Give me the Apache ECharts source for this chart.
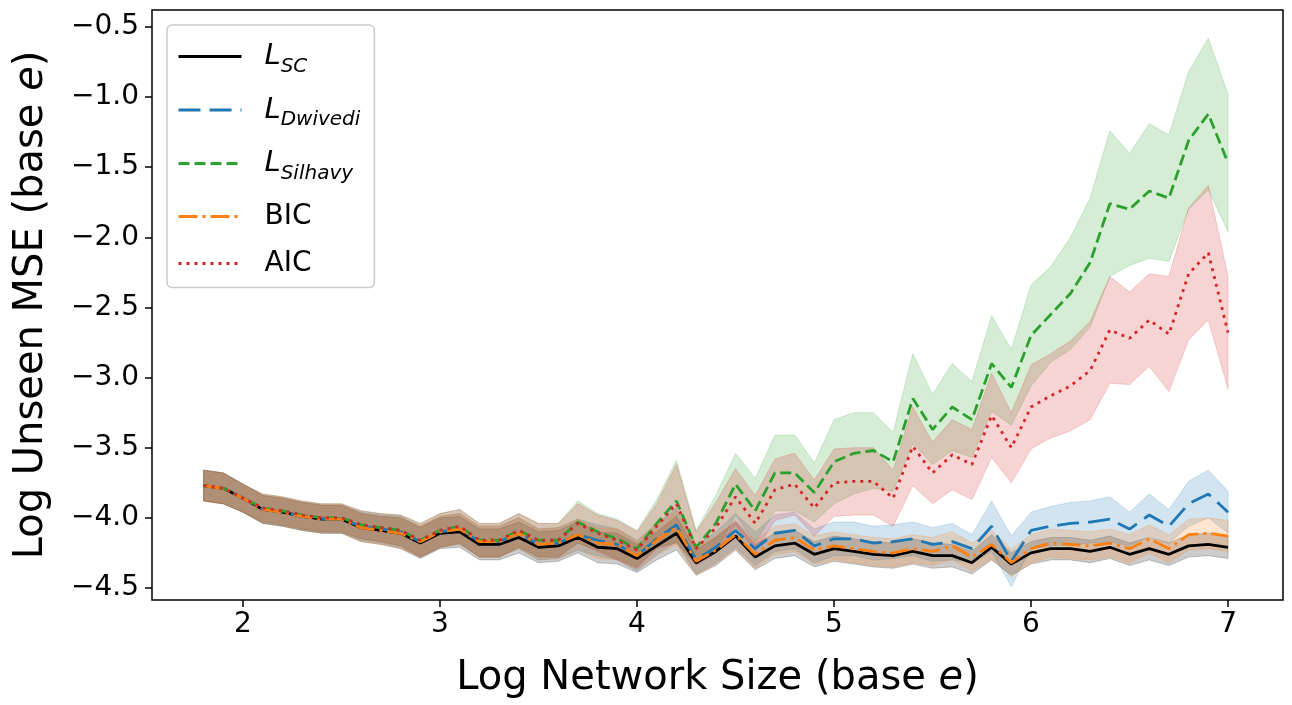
<!DOCTYPE html>
<html>
<head>
<meta charset="utf-8">
<script src="https://cdn.jsdelivr.net/npm/echarts@6/dist/echarts.min.js"></script>
<style>
  html, body { margin: 0; padding: 0; background: #fff; }
  #chart { width: 1292px; height: 705px; }
</style>
</head>
<body>
<div id="chart"></div>
<script>
// x: log network size (base e)
var logSize = [1.8,1.9,2.0,2.1,2.2,2.3,2.4,2.5,2.6,2.7,
               2.8,2.9,3.0,3.1,3.2,3.3,3.4,3.5,3.6,3.7,
               3.8,3.9,4.0,4.1,4.2,4.3,4.4,4.5,4.6,4.7,
               4.8,4.9,5.0,5.1,5.2,5.3,5.4,5.5,5.6,5.7,
               5.8,5.9,6.0,6.1,6.2,6.3,6.4,6.5,6.6,6.7,
               6.8,6.9,7.0];

// mean log unseen MSE per method
var scMean = [-3.77,-3.79,-3.86,-3.94,-3.96,-3.99,-4.01,-4.01,-4.07,-4.09,
              -4.11,-4.18,-4.11,-4.10,-4.19,-4.19,-4.14,-4.21,-4.20,-4.14,
              -4.21,-4.22,-4.29,-4.20,-4.11,-4.32,-4.24,-4.13,-4.28,-4.20,
              -4.18,-4.26,-4.22,-4.24,-4.26,-4.27,-4.24,-4.27,-4.27,-4.32,
              -4.21,-4.33,-4.25,-4.22,-4.22,-4.24,-4.21,-4.26,-4.22,-4.26,
              -4.20,-4.19,-4.21];
var dwMean = [-3.77,-3.79,-3.86,-3.94,-3.96,-3.99,-4.01,-4.01,-4.06,-4.08,
              -4.10,-4.17,-4.10,-4.08,-4.17,-4.17,-4.11,-4.19,-4.18,-4.12,
              -4.16,-4.19,-4.27,-4.15,-4.05,-4.30,-4.21,-4.09,-4.22,-4.11,
              -4.09,-4.20,-4.15,-4.15,-4.18,-4.17,-4.15,-4.19,-4.17,-4.22,
              -4.06,-4.31,-4.09,-4.06,-4.04,-4.03,-4.01,-4.08,-3.98,-4.06,
              -3.90,-3.83,-3.96];
var siMean = [-3.77,-3.79,-3.86,-3.93,-3.95,-3.98,-4.00,-4.00,-4.05,-4.07,
              -4.09,-4.16,-4.09,-4.06,-4.16,-4.16,-4.09,-4.16,-4.16,-4.03,
              -4.10,-4.15,-4.22,-4.04,-3.88,-4.21,-4.04,-3.76,-3.95,-3.68,
              -3.68,-3.82,-3.60,-3.54,-3.52,-3.60,-3.15,-3.37,-3.21,-3.30,
              -2.90,-3.07,-2.70,-2.55,-2.40,-2.18,-1.76,-1.80,-1.67,-1.72,
              -1.31,-1.12,-1.47];
var bicMean = [-3.77,-3.79,-3.86,-3.94,-3.96,-3.99,-4.01,-4.01,-4.07,-4.09,
               -4.11,-4.17,-4.10,-4.08,-4.17,-4.17,-4.11,-4.19,-4.18,-4.12,
               -4.18,-4.19,-4.27,-4.16,-4.07,-4.31,-4.23,-4.12,-4.26,-4.16,
               -4.14,-4.23,-4.20,-4.22,-4.24,-4.25,-4.22,-4.24,-4.20,-4.28,
               -4.19,-4.32,-4.22,-4.18,-4.19,-4.20,-4.18,-4.22,-4.15,-4.22,
               -4.12,-4.11,-4.13];
var aicMean = [-3.77,-3.79,-3.86,-3.93,-3.95,-3.98,-4.00,-4.00,-4.05,-4.07,
               -4.09,-4.16,-4.09,-4.06,-4.16,-4.16,-4.09,-4.16,-4.16,-4.04,
               -4.11,-4.16,-4.23,-4.06,-3.90,-4.22,-4.07,-3.85,-4.04,-3.80,
               -3.76,-3.93,-3.75,-3.74,-3.74,-3.86,-3.49,-3.68,-3.55,-3.62,
               -3.27,-3.50,-3.21,-3.13,-3.06,-2.95,-2.66,-2.72,-2.59,-2.69,
               -2.26,-2.11,-2.68];

// spread (half width of shaded band)
var scSd = [0.11,0.11,0.10,0.10,0.10,0.10,0.10,0.10,0.10,0.10,
            0.11,0.11,0.11,0.11,0.11,0.11,0.11,0.11,0.11,0.11,
            0.11,0.11,0.10,0.10,0.12,0.09,0.10,0.10,0.09,0.09,
            0.09,0.09,0.09,0.09,0.09,0.09,0.09,0.09,0.08,0.08,
            0.09,0.08,0.08,0.08,0.08,0.08,0.08,0.08,0.08,0.08,
            0.08,0.08,0.08];
var dwSd = [0.11,0.11,0.10,0.10,0.10,0.10,0.10,0.10,0.10,0.10,
            0.11,0.11,0.11,0.11,0.11,0.11,0.11,0.11,0.11,0.11,
            0.11,0.11,0.11,0.11,0.12,0.10,0.11,0.12,0.12,0.13,
            0.13,0.12,0.12,0.12,0.12,0.12,0.12,0.12,0.13,0.10,
            0.18,0.18,0.13,0.14,0.15,0.15,0.16,0.12,0.15,0.12,
            0.16,0.17,0.15];
var siSd = [0.11,0.11,0.10,0.10,0.10,0.10,0.10,0.10,0.10,0.10,
            0.11,0.12,0.12,0.12,0.12,0.12,0.12,0.12,0.12,0.15,
            0.13,0.14,0.13,0.17,0.29,0.12,0.20,0.22,0.23,0.27,
            0.27,0.21,0.30,0.29,0.27,0.21,0.32,0.25,0.31,0.27,
            0.34,0.27,0.36,0.34,0.40,0.46,0.52,0.40,0.48,0.45,
            0.49,0.54,0.49];
var bicSd = [0.11,0.11,0.10,0.10,0.10,0.10,0.10,0.10,0.10,0.10,
             0.11,0.11,0.11,0.11,0.11,0.11,0.11,0.11,0.11,0.11,
             0.11,0.11,0.10,0.11,0.12,0.10,0.10,0.10,0.10,0.10,
             0.10,0.10,0.10,0.10,0.10,0.10,0.10,0.10,0.10,0.10,
             0.10,0.10,0.10,0.10,0.10,0.10,0.10,0.10,0.10,0.10,
             0.11,0.11,0.11];
var aicSd = [0.11,0.11,0.10,0.10,0.10,0.10,0.10,0.10,0.10,0.10,
             0.11,0.12,0.12,0.12,0.12,0.12,0.12,0.12,0.12,0.14,
             0.13,0.14,0.13,0.16,0.28,0.12,0.18,0.20,0.20,0.22,
             0.22,0.20,0.24,0.24,0.24,0.20,0.28,0.22,0.25,0.25,
             0.30,0.25,0.30,0.30,0.32,0.35,0.38,0.33,0.33,0.41,
             0.47,0.48,0.40];

var xTicks = [2, 3, 4, 5, 6, 7];
var yTicks = [-4.5, -4.0, -3.5, -3.0, -2.5, -2.0, -1.5, -1.0, -0.5];

var FONT = 'DejaVu Sans';

var methods = [
  { name: 'L_SC',      label: '{p|}{L|L}{s|SC}',      mean: scMean,  sd: scSd,  color: '#000000', fill: 'rgba(0,0,0,0.2)',       dash: 'solid' },
  { name: 'L_Dwivedi', label: '{p|}{L|L}{s|Dwivedi}', mean: dwMean,  sd: dwSd,  color: '#1f77b4', fill: 'rgba(31,119,180,0.2)',  dash: [22, 9] },
  { name: 'L_Silhavy', label: '{p|}{L|L}{s|Silhavy}', mean: siMean,  sd: siSd,  color: '#2ca02c', fill: 'rgba(44,160,44,0.2)',   dash: [11, 5] },
  { name: 'BIC',       label: '{p|}{t|BIC}',          mean: bicMean, sd: bicSd, color: '#ff7f0e', fill: 'rgba(255,127,14,0.2)',  dash: [19, 5, 3, 5] },
  { name: 'AIC',       label: '{p|}{t|AIC}',          mean: aicMean, sd: aicSd, color: '#d62728', fill: 'rgba(214,39,40,0.2)',   dash: [3, 5] }
];

function pairs(ys) {
  return logSize.map(function (x, i) { return [x, ys[i]]; });
}

// one polygon per method: mean +/- sd
function bandSeries(m, k) {
  return {
    type: 'custom',
    name: 'band' + k,
    coordinateSystem: 'cartesian2d',
    data: pairs(m.mean),
    encode: { x: 0, y: 1 },
    z: 1,
    silent: true,
    renderItem: function (params, api) {
      if (params.dataIndex !== 0) return null;
      var pts = [];
      for (var i = 0; i < logSize.length; i++) {
        pts.push(api.coord([logSize[i], m.mean[i] + m.sd[i]]));
      }
      for (var j = logSize.length - 1; j >= 0; j--) {
        pts.push(api.coord([logSize[j], m.mean[j] - m.sd[j]]));
      }
      return {
        type: 'polygon',
        shape: { points: pts },
        style: { fill: m.fill, stroke: m.fill, lineWidth: 1 }
      };
    }
  };
}

function lineSeries(m, k) {
  return {
    type: 'line',
    name: m.name,
    data: pairs(m.mean),
    symbol: 'none',
    z: 10 + k,
    lineStyle: { color: m.color, width: 2.8, type: m.dash },
    itemStyle: { color: m.color }
  };
}

var series = [];
methods.forEach(function (m, k) { series.push(bandSeries(m, k)); });
methods.forEach(function (m, k) { series.push(lineSeries(m, k)); });

function fmt(v) {
  return (v < 0 ? '\u2212' : '') + Math.abs(v).toFixed(1);
}

var chart = echarts.init(document.getElementById('chart'), null, { renderer: 'canvas' });

chart.setOption({
  animation: false,
  backgroundColor: '#fff',
  grid: {
    left: 152, right: 9, top: 10, bottom: 105,
    show: true, borderColor: '#000', borderWidth: 1.5, backgroundColor: 'transparent'
  },
  legend: {
    data: methods.map(function (m) { return m.name; }),
    orient: 'vertical',
    left: 167, top: 25,
    padding: [17, 14, 10, 10],
    itemWidth: 63, itemHeight: 14, itemGap: 19,
    backgroundColor: 'rgba(255,255,255,0.8)',
    borderColor: '#cccccc', borderWidth: 1.5, borderRadius: 5,
    itemStyle: { opacity: 0, color: 'transparent', borderWidth: 0 },
    lineStyle: { width: 3 },
    formatter: function (name) {
      for (var i = 0; i < methods.length; i++) if (methods[i].name === name) return methods[i].label;
      return name;
    },
    textStyle: {
      color: '#000', fontFamily: FONT,
      rich: {
        p: { width: 18, lineHeight: 40 },
        L: { fontSize: 29, fontStyle: 'italic', fontFamily: FONT, color: '#000', lineHeight: 40 },
        s: { fontSize: 20, fontStyle: 'italic', fontFamily: FONT, color: '#000', lineHeight: 24, verticalAlign: 'bottom' },
        t: { fontSize: 28, fontFamily: FONT, color: '#000', lineHeight: 40 }
      }
    }
  },
  xAxis: {
    type: 'value',
    min: 1.538, max: 7.279,
    name: '{a|Log Network Size (base }{b|e}{a|)}',
    nameLocation: 'middle', nameGap: 59,
    nameTextStyle: {
      rich: {
        a: { fontSize: 40, fontFamily: FONT, color: '#000' },
        b: { fontSize: 40, fontFamily: FONT, fontStyle: 'italic', color: '#000' }
      }
    },
    axisLine: { show: false },
    splitLine: { show: false },
    axisTick: { show: true, length: 7, customValues: xTicks, lineStyle: { color: '#000', width: 1.5 } },
    axisLabel: { customValues: xTicks, fontSize: 28, fontFamily: FONT, color: '#000', margin: 11,
                 formatter: function (v) { return String(v); } }
  },
  yAxis: {
    type: 'value',
    min: -4.586, max: -0.379,
    name: '{a|Log Unseen MSE (base }{b|e}{a|)}',
    nameLocation: 'middle', nameGap: 100, nameRotate: 90,
    nameTextStyle: {
      rich: {
        a: { fontSize: 40, fontFamily: FONT, color: '#000' },
        b: { fontSize: 40, fontFamily: FONT, fontStyle: 'italic', color: '#000' }
      }
    },
    axisLine: { show: false },
    splitLine: { show: false },
    axisTick: { show: true, length: 7, customValues: yTicks, lineStyle: { color: '#000', width: 1.5 } },
    axisLabel: { customValues: yTicks, fontSize: 28, fontFamily: FONT, color: '#000', margin: 13,
                 formatter: fmt }
  },
  series: series
});
</script>
</body>
</html>
